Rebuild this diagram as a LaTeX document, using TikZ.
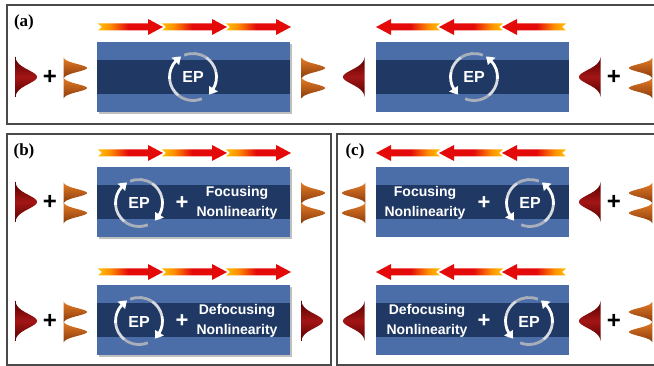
\documentclass[tikz,border=0pt]{standalone}
\usepackage{fontspec}
\setmainfont{Liberation Sans}
\newfontfamily\labelfont{Liberation Serif}
\usetikzlibrary{arrows.meta,shadows,bending}
\definecolor{wgl}{HTML}{4C6EA8}
\definecolor{wgd}{HTML}{1F3864}
\definecolor{pr1}{HTML}{560000}
\definecolor{pr2}{HTML}{A31515}
\definecolor{po1}{HTML}{E27C26}
\definecolor{po2}{HTML}{8A3A0C}
\definecolor{ay}{HTML}{FFC000}
\definecolor{ao}{HTML}{FF9000}
\definecolor{ar}{HTML}{E50A0A}
\definecolor{fr}{HTML}{4A4A4A}
\definecolor{epg}{HTML}{A9AFBA}
\pgfdeclarehorizontalshading{arrowshade}{100bp}{color(0bp)=(ay); color(25bp)=(ay); color(34bp)=(ao); color(48bp)=(ar); color(100bp)=(ar)}
\tikzset{
  frame/.style={draw=fr,line width=1.4pt},
  wgshadow/.style={drop shadow={shadow xshift=2pt,shadow yshift=-2pt,opacity=0.25,fill=black}},
  epline/.style={line width=2.8pt},
  eptext/.style={text=white,font=\bfseries\fontsize{16}{16}\selectfont,inner sep=0pt},
  nltext/.style={text=white,align=center,font=\bfseries\fontsize{14}{20}\selectfont,inner sep=0pt},
  wplus/.style={text=white,font=\bfseries\fontsize{22}{22}\selectfont,inner sep=0pt},
  bplus/.style={text=black,font=\bfseries\fontsize{24}{24}\selectfont,inner sep=0pt},
  panellabel/.style={font=\labelfont\bfseries\fontsize{17}{17}\selectfont,inner sep=0pt}
}
% waveguide: left x, top y (px), extra style
\newcommand{\wguide}[3]{%
  \fill[wgl,#3] (#1,-#2) rectangle ++(193,-70);
  \fill[wgd] (#1,-#2-18) rectangle ++(193,-34);
}
% right arrow starting at x0, centre y
\newcommand{\rarr}[2]{%
  \shade[shading=arrowshade] (#1,#2+3.5) -- (#1+50,#2+3.5) -- (#1+50,#2+8) -- (#1+65,#2) -- (#1+50,#2-8) -- (#1+50,#2-3.5) -- (#1,#2-3.5) -- (#1+4,#2) -- cycle;}
% left arrow with tip at x0, tail at x0+64
\newcommand{\larr}[2]{%
  \shade[shading=arrowshade,shading angle=180] (#1+64,#2+3.5) -- (#1+15,#2+3.5) -- (#1+15,#2+8) -- (#1,#2) -- (#1+15,#2-8) -- (#1+15,#2-3.5) -- (#1+64,#2-3.5) -- (#1+60,#2) -- cycle;}
\newcommand{\rrow}[1]{\rarr{98}{#1}\rarr{162}{#1}\rarr{226}{#1}}
\newcommand{\lrow}[1]{\larr{502}{#1}\larr{439}{#1}\larr{376}{#1}}
% dark red pulse: base x, centre y, direction (1 right, -1 left)
\newcommand{\rpulse}[3]{%
  \shade[top color=pr1,bottom color=pr1,middle color=pr2] plot[domain=-20:20,samples=41,smooth] ({#1+(#3)*22*exp(-(\x*\x)/100)},{#2+\x}) -- cycle;}
% orange double pulse
\newcommand{\opulse}[3]{%
  \foreach \dy in {10,-10}{%
    \shade[top color=po1,bottom color=po2] plot[domain=-10.5:10.5,samples=31,smooth] ({#1+(#3)*24*exp(-(\x*\x)/30)},{#2+\dy+\x}) -- cycle;}}
% EP circular arrow
\newcommand{\eparrow}[4]{%
  \pgfmathsetmacro\aone{(#3)+((#4)-(#3))*0.35}%
  \pgfmathsetmacro\atwo{(#3)+((#4)-(#3))*0.62}%
  \draw[epline,epg] (#1,#2) ++(#3:23.5) arc[start angle=#3,end angle=\aone,radius=23.5];
  \draw[epline,epg!45!white] (#1,#2) ++(\aone:23.5) arc[start angle=\aone,end angle=\atwo,radius=23.5];
  \draw[epline,white,-{Triangle[width=10pt,length=7.5pt,bend]}] (#1,#2) ++(\atwo:23.5) arc[start angle=\atwo,end angle=#4,radius=23.5];
}
\newcommand{\epcw}[2]{\eparrow{#1}{#2}{112}{-48}\eparrow{#1}{#2}{-68}{-240}}
\newcommand{\epccw}[2]{\eparrow{#1}{#2}{68}{228}\eparrow{#1}{#2}{248}{420}}

\begin{document}
\begin{tikzpicture}[x=1pt,y=1pt]
\useasboundingbox (0,0) rectangle (654,-366);
\fill[white] (0,0) rectangle (654,-366);

% frames
\draw[frame] (7,-5) rectangle (662,-124);
\draw[frame] (7,-134) rectangle (331,-365);
\draw[frame] (337,-134) rectangle (662,-365);
\node[panellabel] (la) at (24,-22) {(a)};
\node[panellabel] (lb) at (24,-151) {(b)};
\node[panellabel] (lc) at (355,-151) {(c)};

% ---------- panel (a) ----------
\rrow{-27}
\wguide{97}{42}{wgshadow}
\epcw{193}{-77}
\node[eptext] (epa1) at (193,-77) {EP};
\rpulse{15}{-77}{1}
\node[bplus] (pa1) at (50,-77) {+};
\opulse{63}{-78}{1}
\opulse{301}{-78}{1}

\lrow{-27}
\wguide{376}{42}{}
\epccw{474}{-77}
\node[eptext] (epa2) at (474,-77) {EP};
\rpulse{365}{-77}{-1}
\rpulse{601}{-77}{-1}
\node[bplus] (pa2) at (614,-77) {+};
\opulse{653}{-78}{-1}

% ---------- panel (b) ----------
\rrow{-153}
\wguide{97}{167}{wgshadow}
\epcw{139}{-203}
\node[eptext] (epb1) at (139,-203) {EP};
\node[wplus] (wpb1) at (182,-203) {+};
\node[nltext] (nlb1) at (237,-202.5) {Focusing\\Nonlinearity};
\rpulse{15}{-202}{1}
\node[bplus] (pb1) at (50,-202) {+};
\opulse{63}{-203}{1}
\opulse{301}{-203}{1}

\rrow{-272}
\wguide{97}{285}{wgshadow}
\epcw{139}{-321}
\node[eptext] (epb2) at (139,-322) {EP};
\node[wplus] (wpb2) at (182,-321) {+};
\node[nltext] (nlb2) at (237,-321) {Defocusing\\Nonlinearity};
\rpulse{15}{-321}{1}
\node[bplus] (pb2) at (50,-321) {+};
\opulse{63}{-322}{1}
\rpulse{301}{-321}{1}

% ---------- panel (c) ----------
\lrow{-153}
\wguide{376}{167}{}
\epccw{530}{-203}
\node[eptext] (epc1) at (530,-203) {EP};
\node[wplus] (wpc1) at (484,-203) {+};
\node[nltext] (nlc1) at (425,-202.5) {Focusing\\Nonlinearity};
\opulse{366}{-203}{-1}
\rpulse{601}{-202}{-1}
\node[bplus] (pc1) at (614,-202) {+};
\opulse{653}{-203}{-1}

\lrow{-272}
\wguide{376}{285}{}
\epccw{529}{-321}
\node[eptext] (epc2) at (529,-322) {EP};
\node[wplus] (wpc2) at (484,-321) {+};
\node[nltext] (nlc2) at (427,-321) {Defocusing\\Nonlinearity};
\rpulse{365}{-321}{-1}
\rpulse{601}{-321}{-1}
\node[bplus] (pc2) at (614,-321) {+};
\opulse{653}{-322}{-1}
\end{tikzpicture}
\end{document}
